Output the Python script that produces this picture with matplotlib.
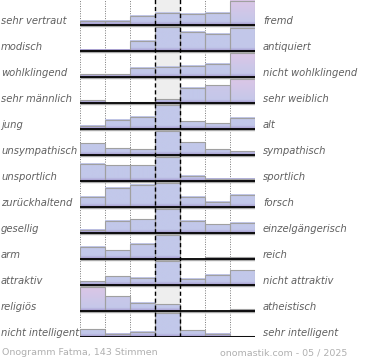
import numpy as np
import matplotlib
matplotlib.use("Agg")
import matplotlib.pyplot as plt
from matplotlib.patches import Rectangle
from matplotlib.colors import to_rgb
from matplotlib.transforms import blended_transform_factory

left_labels = ["sehr vertraut", "modisch", "wohlklingend", "sehr männlich", "jung",
               "unsympathisch", "unsportlich", "zurückhaltend", "gesellig", "arm",
               "attraktiv", "religiös", "nicht intelligent"]
right_labels = ["fremd", "antiquiert", "nicht wohlklingend", "sehr weiblich", "alt",
                "sympathisch", "sportlich", "forsch", "einzelgängerisch", "reich",
                "nicht attraktiv", "atheistisch", "sehr intelligent"]

# estimated votes per step (7 steps from left to right term)
values = [
    [4, 4, 9, 12, 11, 12, 24],
    [1, 1, 10, 24, 19, 17, 23],
    [2.5, 2.5, 9, 10, 11, 13, 24],
    [3, 0, 1, 4, 15.5, 18, 25],
    [3.3, 9.7, 12.7, 25, 7.7, 5.7, 11.3],
    [12, 7, 5.7, 25, 13, 5.7, 3.7],
    [17.7, 16, 16, 25, 5.3, 2.3, 2.3],
    [10.3, 19.7, 22.7, 25, 10.3, 5.3, 12.7],
    [3.3, 12.3, 14, 25, 12.3, 8.7, 10.7],
    [12.3, 8.7, 15.7, 25, 0, 1.6, 1.6],
    [4, 8.7, 7.3, 25, 6.3, 10.7, 15.3],
    [24, 14.3, 8.3, 6.7, 0, 0, 1.7],
    [7.5, 3, 5, 24, 6.5, 3, 0.5],
]

footer_left = "Onogramm Fatma, 143 Stimmen"
footer_right = "onomastik.com - 05 / 2025"

blue = np.array(to_rgb("#c2c8ea"))
pink = np.array(to_rgb("#dcc6e6"))
purple = np.array(to_rgb("#a396cc"))

fig = plt.figure(figsize=(3.7, 3.6), dpi=100)
ax = fig.add_axes([80 / 370, 23 / 360, 175 / 370, 338 / 360])

# neutral column background
ax.axvspan(3, 4, color="#eeeeee", zorder=0, lw=0)
for x in [0, 1, 2, 5, 6, 7]:
    ax.axvline(x, color="#777777", ls=(0, (1, 1.5)), lw=0.7, zorder=1)

for i, row in enumerate(values):
    row = np.array(row, dtype=float)
    top = row.max()
    total = row.sum()
    base = i + 1
    for j, v in enumerate(row):
        if v <= 0:
            continue
        h = v / top * 0.94
        share = v / total
        w = 0.0 if j == 3 else float(np.clip((share - 0.24) / 0.08, 0, 1))
        topc = blue * (1 - w) + pink * w
        t = np.linspace(1, 0, 64)[:, None]
        col = blue + (topc - blue) * t
        band = np.clip(1 - (t * h) / 0.13, 0, 1)
        col = col * (1 - band) + purple * band
        ax.imshow(col[:, None, :], extent=(j, j + 1, base, base - h),
                  aspect="auto", interpolation="bilinear", zorder=2)
        ax.add_patch(Rectangle((j, base - h), 1, h, fill=False,
                               edgecolor="#a0a0a0", lw=0.8, zorder=3))
    ax.hlines(base + 0.05, 0, 7, color="#aaaaaa", lw=1.0, zorder=4)
    ax.hlines(base, 0, 7, color="black", lw=1.3, zorder=5)

for x in [3, 4]:
    ax.axvline(x, color="black", ls=(0, (3, 2)), lw=1.0, zorder=6)

ax.set_xlim(0, 7)
ax.set_ylim(13, 0)
ax.axis("off")

trans = blended_transform_factory(fig.transFigure, ax.transData)
for i, (l, r) in enumerate(zip(left_labels, right_labels)):
    ax.text(1 / 370, i + 1 - 0.05, l, transform=trans, ha="left", va="baseline",
            style="italic", fontsize=7.2, color="#606060")
    ax.text(263 / 370, i + 1 - 0.05, r, transform=trans, ha="left", va="baseline",
            style="italic", fontsize=7.2, color="#606060")

fig.text(2 / 370, 1 - 355 / 360, footer_left, ha="left", va="baseline",
         fontsize=6.8, color="#b0b0b0")
fig.text(347 / 370, 1 - 355 / 360, footer_right, ha="right", va="baseline",
         fontsize=6.8, color="#b0b0b0")

fig.savefig("out.png", dpi=100)
